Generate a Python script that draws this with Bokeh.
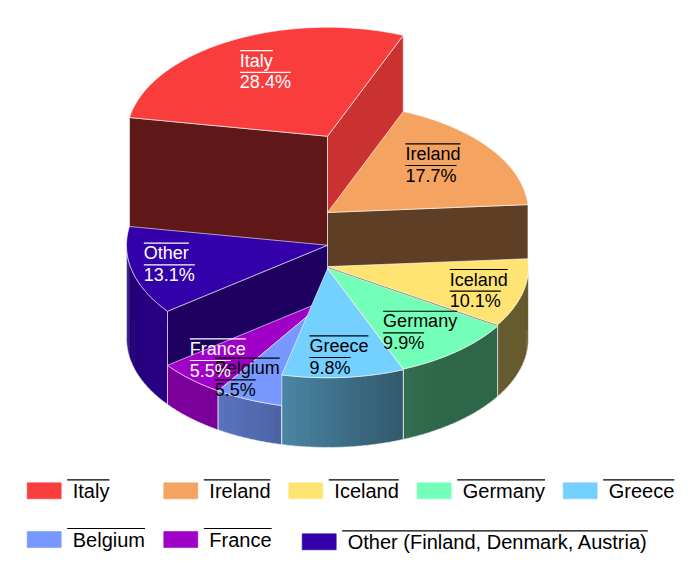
import math
from bokeh.plotting import figure
from bokeh.models import ColumnDataSource, Range1d
from bokeh.embed import file_html
from bokeh.resources import INLINE
from bokeh.core.properties import value

# ---------------- data ----------------
countries = ["Italy", "Ireland", "Iceland", "Germany", "Greece", "Belgium", "France", "Other"]
legend_names = ["Italy", "Ireland", "Iceland", "Germany", "Greece", "Belgium", "France",
                "Other (Finland, Denmark, Austria)"]
shares = [28.4, 17.7, 10.1, 9.9, 9.8, 5.5, 5.5, 13.1]
colors = ["#f93d3d", "#f4a460", "#ffe474", "#74ffb9", "#74d0ff", "#7799ff", "#a000c8", "#3300aa"]
label_colors = ["#ffffff", "#000000", "#000000", "#000000", "#000000", "#000000", "#ffffff", "#ffffff"]

# ---------------- layout ----------------
W, H = 692, 557
CX, CY = 327.0, 338.0          # centre of the pie's base ellipse
RX, RY = 201.0, 109.0          # ellipse radii
START = -80.1                  # start angle, degrees clockwise from 12 o'clock
DEPTH_PER_UNIT = 7.12          # extrusion height per percentage point
LABEL_R = 0.75
LABEL_DX = [-14.6, -44.0, -24.0, -41.2, -29.9, -53.8, -35.2, -37.2]
LABEL_DY = [-14.2, -20.6, -16.9, -19.4, -14.4, -16.4, -20.5, -21.4]
LEGEND_X = [26.7, 163.3, 288.3, 416.7, 562.7, 26.7, 163.3, 301.7]
LEGEND_Y = [482.3, 482.3, 482.3, 482.3, 482.3, 531.0, 531.0, 533.3]
FONT = "Liberation Sans"
BASELINE_FIX = 0.37            # svg text sits lower than canvas alphabetic baseline

AW = {' ': 278, '(': 333, ')': 333, ',': 278, '.': 278, '%': 889,
      'A': 667, 'B': 667, 'D': 722, 'F': 611, 'G': 778, 'I': 278, 'O': 778,
      'a': 556, 'c': 500, 'd': 556, 'e': 556, 'g': 556, 'h': 556, 'i': 222,
      'k': 500, 'l': 222, 'm': 833, 'n': 556, 'r': 333, 's': 500, 't': 278,
      'u': 556, 'y': 500}


def text_w(s, size):
    return sum(AW.get(ch, 556) for ch in s) * size / 1000.0


def pt(theta, r, z):
    t = math.radians(theta)
    return CX + r * RX * math.sin(t), CY - r * RY * math.cos(t) - z


def shade(hexc, f):
    r, g, b = int(hexc[1:3], 16), int(hexc[3:5], 16), int(hexc[5:7], 16)
    return "#%02x%02x%02x" % (min(255, round(r * f)), min(255, round(g * f)), min(255, round(b * f)))


def wall_factor(theta):
    return 0.4 + 0.38 * max(0.0, math.cos(math.radians(theta - 230))) ** 2


def cut_factor(normal):
    return 0.38 + 0.46 * max(0.0, math.cos(math.radians(normal - 100))) ** 3


def arc(t0, t1, z, step=1.0):
    n = max(2, int(abs(t1 - t0) / step) + 1)
    return [pt(t0 + (t1 - t0) * k / (n - 1), 1, z) for k in range(n)]


def ang_dist(t, ref):
    return abs(((t - ref + 180) % 360) - 180)


# ---------------- geometry ----------------
total = sum(shares)
slices = []
a = START
for i, v in enumerate(shares):
    a1, a2 = a, a + 360.0 * v / total
    a = a2
    slices.append(dict(i=i, a1=a1, a2=a2, h=v * DEPTH_PER_UNIT))


def front_key(s):
    a1, a2 = s["a1"], s["a2"]
    for off in (-360, 0, 360):
        if a1 <= 180 + off <= a2:
            return 0.0
    return min(ang_dist(a1, 180), ang_dist(a2, 180))


order = sorted(slices, key=front_key, reverse=True)

P = dict(xs=[], ys=[], fc=[], fa=[], lc=[], la=[], lw=[])
EDGE = "#ffffff"


def add(poly, fill, falpha, line, lalpha, lwidth):
    P["xs"].append([q[0] for q in poly])
    P["ys"].append([q[1] for q in poly])
    P["fc"].append(fill)
    P["fa"].append(falpha)
    P["lc"].append(line)
    P["la"].append(lalpha)
    P["lw"].append(lwidth)


for s in order:
    i, a1, a2, h = s["i"], s["a1"], s["a2"], s["h"]
    col = colors[i]
    # outer wall (front half only), shaded in narrow overlapping strips
    for off in (-360, 0, 360):
        lo, hi = max(a1, 90 + off), min(a2, 270 + off)
        if hi > lo:
            n = max(2, int((hi - lo) / 2.0))
            for j in range(n):
                t0 = lo + (hi - lo) * j / n
                t1 = lo + (hi - lo) * (j + 1) / n
                c = shade(col, wall_factor(((t0 + t1) / 2) % 360))
                t1e = min(hi, t1 + 0.6)
                poly = arc(t0, t1e, h, 0.5) + arc(t1e, t0, 0, 0.5)
                add(poly, c, 1.0, c, 0.0, 0.0)
            poly = arc(lo, hi, h) + arc(hi, lo, 0)
            add(poly, "#000000", 0.0, EDGE, 0.6, 1.0)
    # radial cut faces
    if 180 < (a1 % 360) < 360:
        poly = [pt(a1, 0, h), pt(a1, 1, h), pt(a1, 1, 0), pt(a1, 0, 0)]
        add(poly, shade(col, cut_factor(a1 - 90)), 1.0, EDGE, 0.6, 1.0)
    if 0 < (a2 % 360) < 180:
        poly = [pt(a2, 0, h), pt(a2, 1, h), pt(a2, 1, 0), pt(a2, 0, 0)]
        add(poly, shade(col, cut_factor(a2 + 90)), 1.0, EDGE, 0.6, 1.0)
    # top face
    poly = [pt(a1, 0, h)] + arc(a1, a2, h)
    add(poly, col, 1.0, EDGE, 0.6, 1.0)

p = figure(width=W, height=H, x_range=Range1d(0, W), y_range=Range1d(H, 0),
           output_backend="svg", toolbar_location=None, min_border=0,
           x_axis_location=None, y_axis_location=None)
p.grid.visible = False
p.outline_line_color = None
p.background_fill_color = "#ffffff"
p.border_fill_color = "#ffffff"

src = ColumnDataSource(P)
p.patches("xs", "ys", source=src, fill_color="fc", fill_alpha="fa",
          line_color="lc", line_alpha="la", line_width="lw")

# ---------------- slice labels ----------------
LS = 18
T = dict(x=[], y=[], t=[], c=[])
S = dict(x0=[], x1=[], y=[], c=[])
for s in slices:
    i = s["i"]
    mid = (s["a1"] + s["a2"]) / 2
    ax, ay = pt(mid, LABEL_R, s["h"])
    left = ax + LABEL_DX[i]
    y0 = ay + LABEL_DY[i]
    lines = [countries[i], "%.1f%%" % shares[i]]
    for k, txt in enumerate(lines):
        oy = y0 + k * 21.7
        T["x"].append(left)
        T["y"].append(oy + 16.7 - BASELINE_FIX * LS)
        T["t"].append(txt)
        T["c"].append(label_colors[i])
        S["x0"].append(left)
        S["x1"].append(left + text_w(txt, LS))
        S["y"].append(oy)
        S["c"].append(label_colors[i])

p.text("x", "y", text="t", source=ColumnDataSource(T), text_color="c",
       text_font=value(FONT), text_font_size=value("%dpx" % LS),
       text_baseline="alphabetic", text_align="left")
p.segment("x0", "y", "x1", "y", source=ColumnDataSource(S), line_color="c", line_width=1.2)

# ---------------- legend ----------------
LG = 20
L = dict(x=[], y=[], w=[], h=[], c=[])
LT = dict(x=[], y=[], t=[])
LSg = dict(x0=[], x1=[], y=[])
for i, name in enumerate(legend_names):
    sx, sy = LEGEND_X[i], LEGEND_Y[i]
    L["x"].append(sx + 17)
    L["y"].append(sy + 8)
    L["w"].append(34)
    L["h"].append(16)
    L["c"].append(colors[i])
    ov = sy - 3.0
    LSg["x0"].append(sx + 40)
    LSg["x1"].append(sx + 40 + text_w(" " + name, LG))
    LSg["y"].append(ov)
    LT["x"].append(sx + 40 + text_w(" ", LG))
    LT["y"].append(ov + 18.4 - BASELINE_FIX * LG)
    LT["t"].append(name)

p.rect("x", "y", width="w", height="h", source=ColumnDataSource(L), fill_color="c",
       line_color="c", line_alpha=0.6)
p.text("x", "y", text="t", source=ColumnDataSource(LT), text_color="#000000",
       text_font=value(FONT), text_font_size=value("%dpx" % LG),
       text_baseline="alphabetic", text_align="left")
p.segment("x0", "y", "x1", "y", source=ColumnDataSource(LSg), line_color="#000000", line_width=1.2)

open("out.html", "w").write(file_html(p, INLINE))
